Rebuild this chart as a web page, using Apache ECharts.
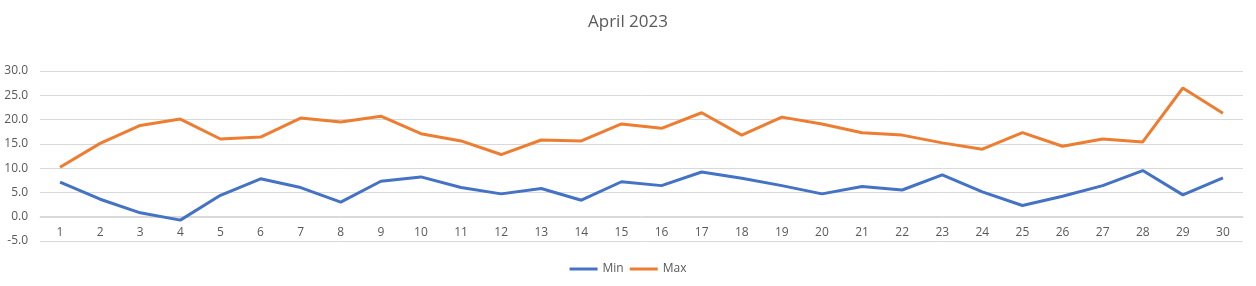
<!DOCTYPE html>
<html>
<head>
<meta charset="utf-8">
<script src="https://cdn.jsdelivr.net/npm/echarts@6/dist/echarts.min.js"></script>
<style>html,body{margin:0;padding:0;background:#fff}#c{width:1256px;height:286px}</style>
</head>
<body>
<div id="c"></div>
<script>
var days = ['1','2','3','4','5','6','7','8','9','10','11','12','13','14','15','16','17','18','19','20','21','22','23','24','25','26','27','28','29','30'];
var minTemps = [7.1,3.6,0.8,-0.7,4.4,7.8,6.0,3.0,7.3,8.2,6.0,4.7,5.8,3.4,7.2,6.4,9.2,7.9,6.4,4.7,6.2,5.5,8.6,5.1,2.3,4.2,6.4,9.5,4.5,8.0];
var maxTemps = [10.2,15.1,18.8,20.1,16.0,16.4,20.3,19.5,20.7,17.1,15.6,12.8,15.8,15.6,19.1,18.2,21.4,16.8,20.5,19.1,17.3,16.8,15.2,13.9,17.3,14.5,16.0,15.4,26.5,21.3];
var titleText = 'April 2023';
var seriesNames = ['Min','Max'];

var chart = echarts.init(document.getElementById('c'), null, {renderer:'canvas'});
var font = 'Open Sans, Noto Sans, sans-serif';
chart.setOption({
  animation: false,
  backgroundColor: '#fff',
  title: {
    text: titleText, left: 'center', top: 9,
    textStyle: {fontFamily: font, fontSize: 17, fontWeight: 'normal', color: '#595959'}
  },
  legend: {
    data: seriesNames, bottom: 6, left: 'center',
    icon: 'rect', itemWidth: 28, itemHeight: 3, itemGap: 6,
    textStyle: {fontFamily: font, fontSize: 12, color: '#595959'}
  },
  grid: {left: 40, right: 13, top: 71, bottom: 45, containLabel: false},
  xAxis: {
    type: 'category', data: days, boundaryGap: true,
    position: 'bottom', offset: -24,
    axisLine: {onZero: false, lineStyle: {color: '#D9D9D9'}},
    axisTick: {show: false},
    axisLabel: {fontFamily: font, fontSize: 12, color: '#595959', margin: 10}
  },
  yAxis: {
    type: 'value', min: -5, max: 30, interval: 5,
    axisLine: {show: false}, axisTick: {show: false},
    axisLabel: {fontFamily: font, fontSize: 12, color: '#595959', margin: 12,
      formatter: function(v){return v.toFixed(1);}},
    splitLine: {lineStyle: {color: '#D9D9D9', width: 1}}
  },
  series: [
    {name: seriesNames[0], type: 'line', data: minTemps, symbol: 'none',
     lineStyle: {color: '#4472C4', width: 3}, itemStyle: {color: '#4472C4'}},
    {name: seriesNames[1], type: 'line', data: maxTemps, symbol: 'none',
     lineStyle: {color: '#ED7D31', width: 3}, itemStyle: {color: '#ED7D31'}}
  ]
});
</script>
</body>
</html>
